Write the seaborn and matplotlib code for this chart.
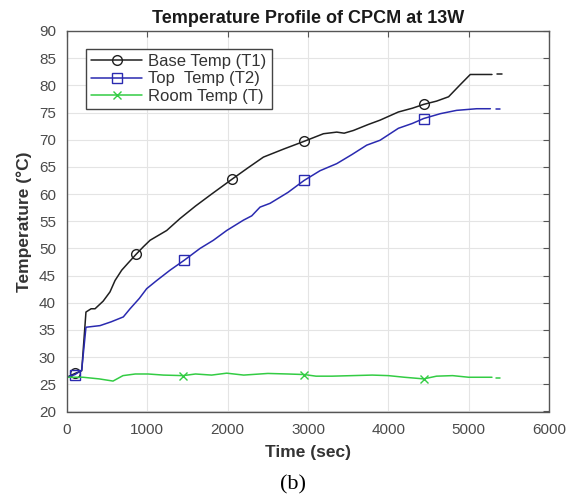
import matplotlib
matplotlib.use("Agg")
import matplotlib.pyplot as plt
import seaborn as sns
import pandas as pd

# Base temperature (T1) readings
base_time = [0, 100, 183, 236, 300, 349, 450, 535, 598, 681, 760, 859, 950, 1034, 1241,
             1407, 1600, 1800, 2051, 2250, 2445, 2700, 2951, 3192, 3358, 3450, 3565, 3750,
             3897, 4125, 4300, 4440, 4600, 4750, 4900, 5020, 5290]
base_temp = [26.3, 27.0, 27.5, 38.3, 38.9, 38.9, 40.3, 42.0, 44.1, 46.0, 47.3, 48.9, 50.3,
             51.5, 53.3, 55.5, 57.8, 60.0, 62.7, 64.8, 66.8, 68.3, 69.7, 71.1, 71.4, 71.2,
             71.7, 72.8, 73.6, 75.1, 75.8, 76.5, 77.1, 77.9, 80.2, 82.0, 82.0]
base_marks = [100, 859, 2051, 2951, 4440]

# Top temperature (T2) readings
top_time = [0, 100, 183, 236, 411, 550, 701, 785, 900, 992, 1117, 1283, 1457, 1656, 1822,
            1988, 2196, 2300, 2403, 2528, 2750, 2951, 3150, 3358, 3550, 3731, 3897, 4125,
            4300, 4440, 4650, 4850, 5100, 5270]
top_temp = [26.3, 26.8, 27.6, 35.5, 35.8, 36.5, 37.4, 38.9, 40.8, 42.6, 44.1, 46.0, 47.8,
            50.0, 51.5, 53.3, 55.2, 56.0, 57.6, 58.3, 60.3, 62.5, 64.3, 65.6, 67.3, 69.0,
            69.9, 72.1, 73.0, 73.9, 74.8, 75.4, 75.7, 75.7]
top_marks = [100, 1457, 2951, 4440]

# Room temperature (T) readings
room_time = [0, 200, 400, 573, 697, 850, 1009, 1200, 1445, 1600, 1800, 1988, 2200, 2500,
             2750, 2951, 3100, 3300, 3550, 3800, 4000, 4200, 4440, 4600, 4800, 5000, 5290]
room_temp = [26.3, 26.3, 26.0, 25.6, 26.6, 26.9, 26.9, 26.7, 26.6, 26.9, 26.7, 27.05, 26.7,
             27.0, 26.9, 26.8, 26.5, 26.5, 26.6, 26.7, 26.6, 26.3, 26.0, 26.5, 26.6, 26.3, 26.3]
room_marks = [1445, 2951, 4440]

# Short trailing segments after the last logged sample
base_tail_time, base_tail_temp = [5350, 5410], [82.0, 82.0]
top_tail_time, top_tail_temp = [5340, 5390], [75.7, 75.7]
room_tail_time, room_tail_temp = [5340, 5390], [26.2, 26.2]

x_ticks = [0, 1000, 2000, 3000, 4000, 5000, 6000]
y_ticks = [20, 25, 30, 35, 40, 45, 50, 55, 60, 65, 70, 75, 80, 85, 90]

sns.set_style("white")
plt.rcParams["font.family"] = ["Liberation Sans", "DejaVu Sans"]

fig = plt.figure(figsize=(5.76, 4.98), dpi=100)
ax = fig.add_axes([67 / 576, 1 - 411.5 / 498, (549 - 67) / 576, (411.5 - 31) / 498])

series = [
    ("Base Temp (T1)", base_time, base_temp, base_marks, "#202020", "o",
     base_tail_time, base_tail_temp),
    ("Top  Temp (T2)", top_time, top_temp, top_marks, "#2a2ab0", "s",
     top_tail_time, top_tail_temp),
    ("Room Temp (T)", room_time, room_temp, room_marks, "#33cc44", "x",
     room_tail_time, room_tail_temp),
]

for label, t, v, marks, color, mk, tt, tv in series:
    df = pd.DataFrame({"time": t, "temp": v})
    idx = [t.index(m) for m in marks]
    sns.lineplot(data=df, x="time", y="temp", ax=ax, color=color, lw=1.1,
                 marker=mk, markevery=idx, markersize=7 if mk != "x" else 6,
                 markerfacecolor="none", markeredgecolor=color, markeredgewidth=1.0,
                 label=label, sort=False)
    sns.lineplot(x=tt, y=tv, ax=ax, color=color, lw=1.1, legend=False, sort=False)

ax.set_xlim(0, 6000)
ax.set_ylim(20, 90)
ax.set_xticks(x_ticks)
ax.set_yticks(y_ticks)
ax.grid(True, color="#e4e4e4", lw=0.8)
ax.set_axisbelow(True)
for s in ax.spines.values():
    s.set_color("#555555")
    s.set_linewidth(1.0)
ax.tick_params(direction="in", length=4, width=0.8, colors="#555555",
               top=True, right=True, labelsize=11, labelcolor="#4a4a4a")
ax.tick_params(axis="x", pad=8)
ax.tick_params(axis="y", pad=8)

ax.set_title("Temperature Profile of CPCM at 13W", fontsize=13, fontweight="bold",
             color="#1a1a1a", pad=6)
ax.set_xlabel("Time (sec)", fontsize=12.5, fontweight="bold", color="#333333", labelpad=6)
ax.set_ylabel("Temperature (\u00b0C)", fontsize=12.5, fontweight="bold", color="#333333",
              labelpad=5)

leg = ax.legend(loc="upper left", bbox_to_anchor=(0.039, 0.953), borderaxespad=0,
                fontsize=12, fancybox=False, framealpha=1, edgecolor="#444444",
                handlelength=3.1, handletextpad=0.35, labelspacing=0.15, borderpad=0.3)
leg.get_frame().set_linewidth(1.0)
for txt in leg.get_texts():
    txt.set_color("#333333")

fig.text(293 / 576, 1 - 485 / 498, "(b)", ha="center", va="center", fontsize=16,
         family=["Liberation Serif", "DejaVu Serif"], color="black")

fig.savefig("out.png", dpi=100)
